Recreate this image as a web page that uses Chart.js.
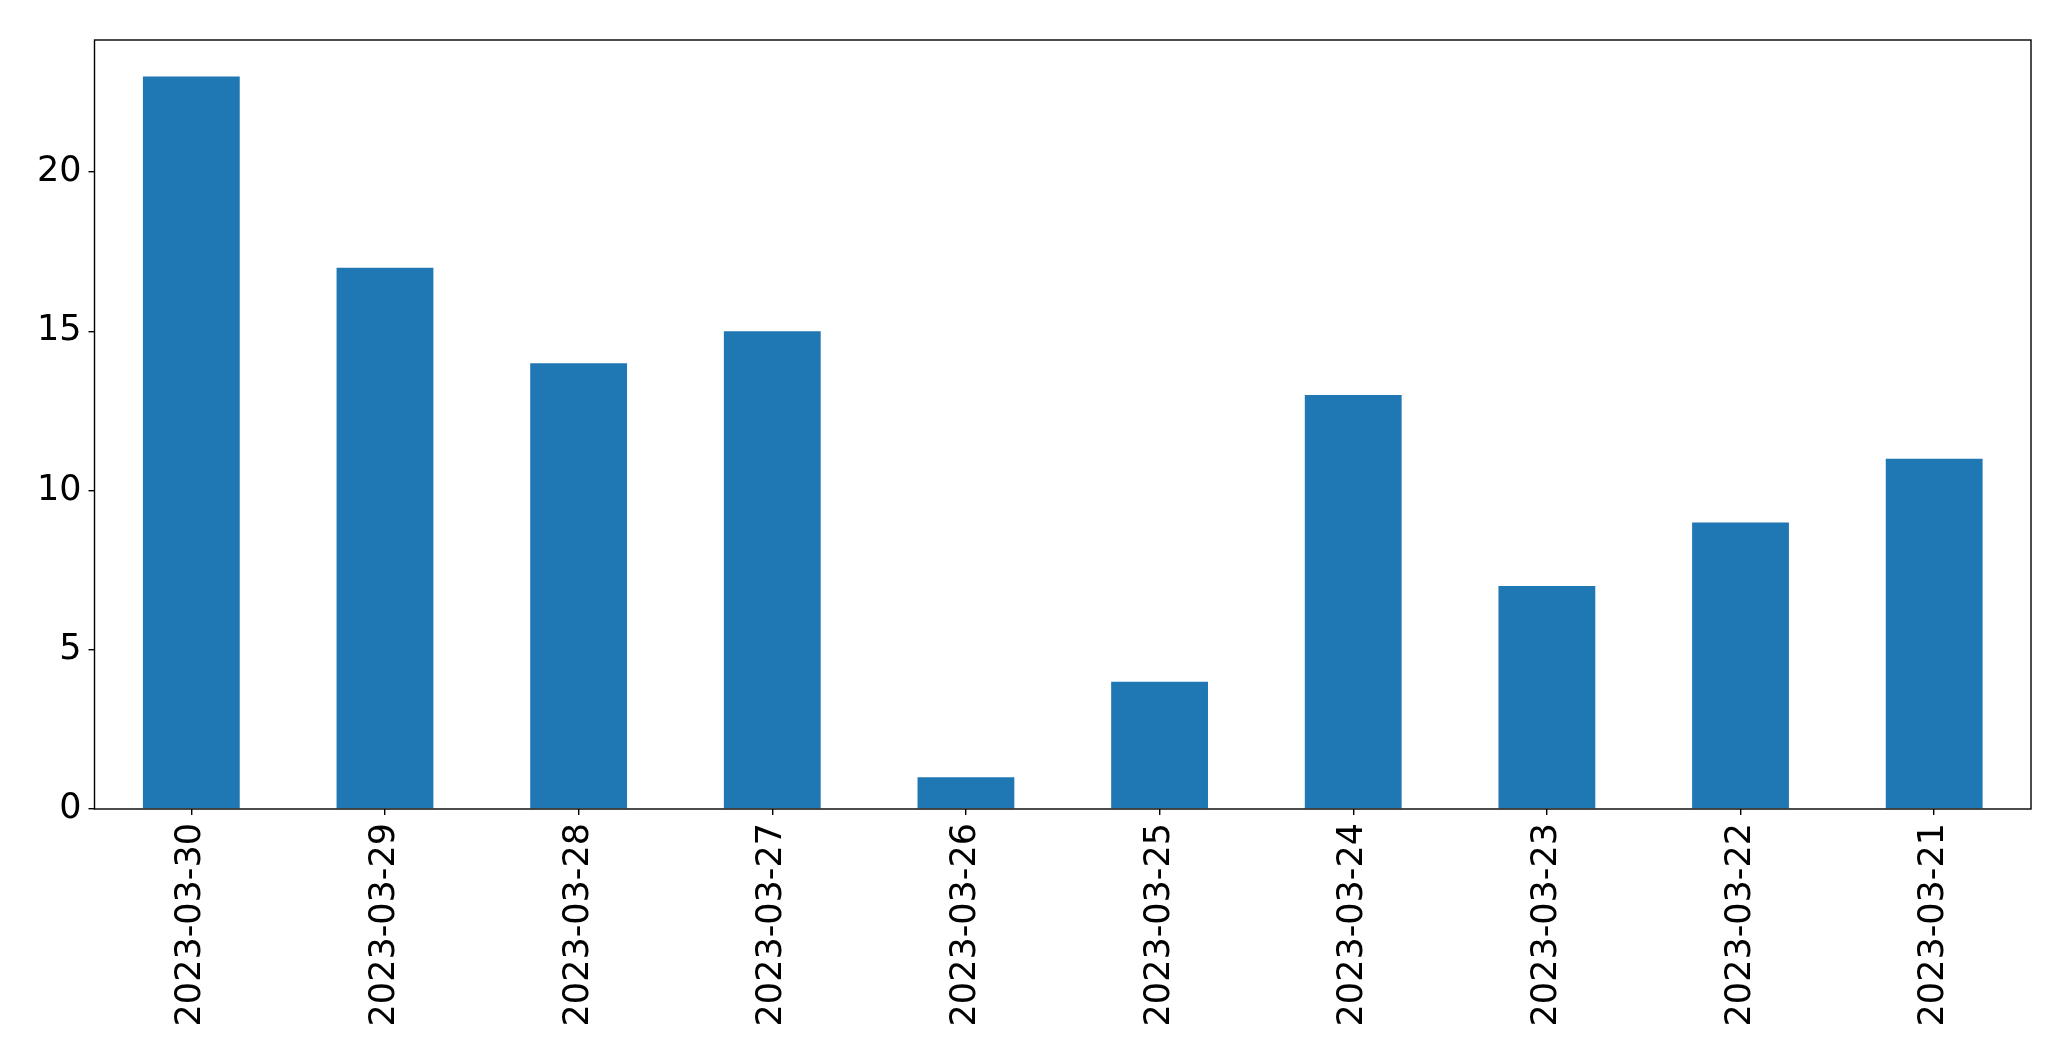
<!DOCTYPE html>
<html>
<head>
<meta charset="utf-8">
<script src="https://cdn.jsdelivr.net/npm/chart.js@4/dist/chart.umd.min.js"></script>
<style>
  html, body { margin: 0; padding: 0; background: #ffffff; }
  #wrap { width: 2071px; height: 1061px; }
</style>
</head>
<body>
<div id="wrap"><canvas id="c" width="2071" height="1061"></canvas></div>
<script>
const categories = ["2023-03-30", "2023-03-29", "2023-03-28", "2023-03-27", "2023-03-26",
                    "2023-03-25", "2023-03-24", "2023-03-23", "2023-03-22", "2023-03-21"];
const counts = [23, 17, 14, 15, 1, 4, 13, 7, 9, 11];
const yTickValues = [0, 5, 10, 15, 20];
const yMax = 24.15;

const FONT = { family: "'DejaVu Sans', sans-serif", size: 35 };

const frameBox = {
  id: 'frameBox',
  afterDraw(chart) {
    const a = chart.chartArea, ctx = chart.ctx;
    ctx.save();
    ctx.strokeStyle = '#000';
    ctx.lineWidth = 1.4;
    ctx.strokeRect(a.left, a.top, a.right - a.left, a.bottom - a.top);
    ctx.restore();
  }
};

new Chart(document.getElementById('c'), {
  type: 'bar',
  data: {
    labels: categories,
    datasets: [{
      data: counts,
      backgroundColor: '#1f77b4',
      borderWidth: 0,
      barPercentage: 0.5,
      categoryPercentage: 1.0
    }]
  },
  options: {
    responsive: false,
    animation: false,
    devicePixelRatio: 1,
    layout: { padding: { top: 40, right: 40, left: 0, bottom: 0 } },
    plugins: { legend: { display: false }, tooltip: { enabled: false } },
    scales: {
      x: {
        type: 'category',
        offset: true,
        grid: { display: true, drawOnChartArea: false, drawTicks: true, tickLength: 6, color: '#000', lineWidth: 1.4, offset: false },
        border: { display: false },
        ticks: { color: '#000', font: FONT, minRotation: 90, maxRotation: 90, padding: 8, autoSkip: false },
        afterFit(scale) { scale.height = 252; }
      },
      y: {
        min: 0,
        max: yMax,
        grid: { display: true, drawOnChartArea: false, drawTicks: true, tickLength: 6, color: '#000', lineWidth: 1.4 },
        border: { display: false },
        ticks: { color: '#000', font: FONT, padding: 7 },
        afterBuildTicks(scale) { scale.ticks = yTickValues.map(v => ({ value: v })); },
        afterFit(scale) { scale.width = 94.5; }
      }
    }
  },
  plugins: [frameBox]
});
</script>
</body>
</html>
